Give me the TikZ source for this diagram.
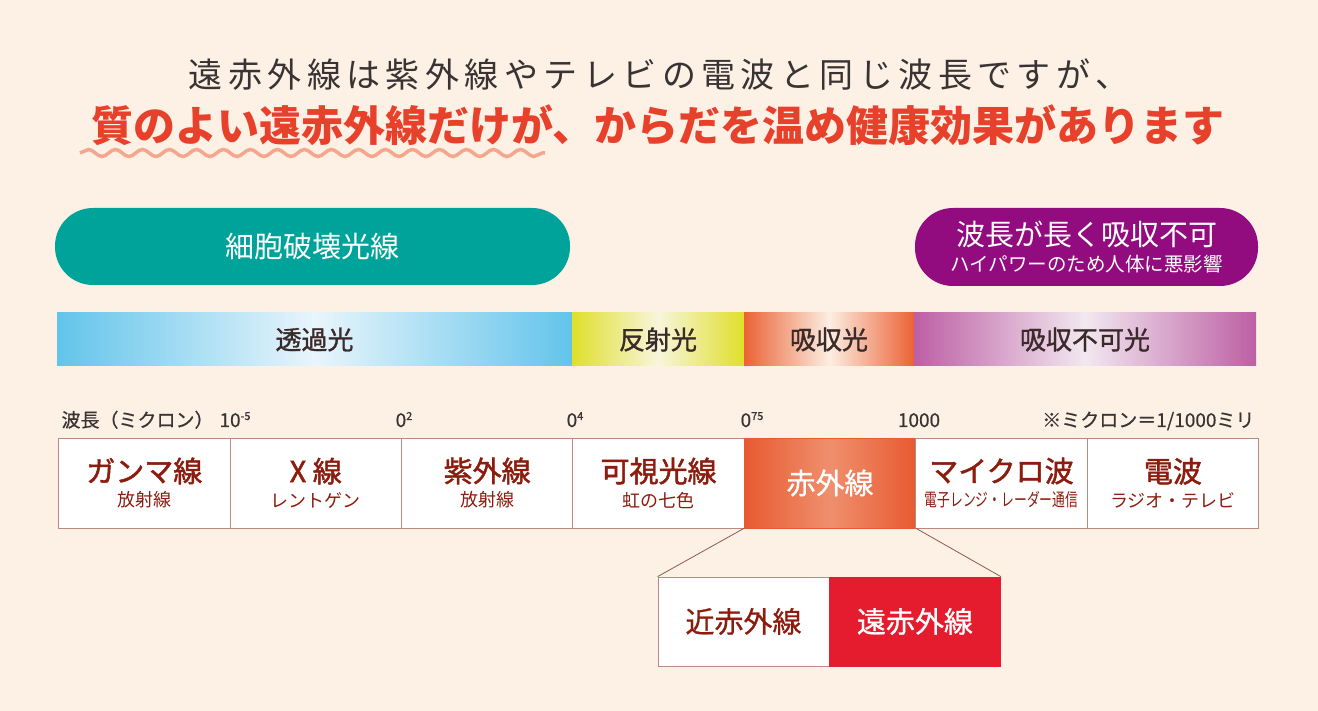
\documentclass[tikz,border=0pt]{standalone}
\usepackage{fontspec}
\setmainfont{Noto Sans CJK JP}
\usetikzlibrary{positioning,decorations.pathmorphing}

\definecolor{bgpeach}{HTML}{FDF0E5}
\definecolor{leadgray}{HTML}{3A3333}
\definecolor{titlered}{HTML}{E8412B}
\definecolor{wavepink}{HTML}{F5A78E}
\definecolor{pillteal}{HTML}{00A39A}
\definecolor{pillpurple}{HTML}{920C80}
\definecolor{bandtext}{HTML}{3B2A2A}
\definecolor{blueE}{HTML}{62C4EA}
\definecolor{blueC}{HTML}{E9F5FC}
\definecolor{yellowE}{HTML}{DFDF2A}
\definecolor{yellowC}{HTML}{F8F5DC}
\definecolor{orangeE}{HTML}{EB6236}
\definecolor{orangeC}{HTML}{FCEEE2}
\definecolor{purpleE}{HTML}{BD5FA4}
\definecolor{purpleC}{HTML}{F2E8F0}
\definecolor{cellline}{HTML}{B88A80}
\definecolor{cellred}{HTML}{8B1C0E}
\definecolor{irE}{HTML}{E85A30}
\definecolor{irC}{HTML}{EF8F6D}
\definecolor{farred}{HTML}{E41C2D}
\definecolor{callbrown}{HTML}{8C5A50}

\tikzset{
  pill/.style={rounded corners=38pt, text=white, inner sep=0pt, align=center},
  band/.style={minimum height=53pt, inner sep=0pt, text=bandtext,
    font=\fontsize{26}{28}\selectfont\addfontfeature{FakeBold=1.2}},
  cellbox/.style={draw=cellline, line width=0.8pt, fill=white, minimum width=171.43pt, minimum height=90pt,
    inner sep=0pt, align=center, text=cellred, font=\fontsize{18}{25}\selectfont},
  bigtext/.style={font=\fontsize{29}{30}\selectfont\addfontfeature{FakeBold=0.8}},
  tick/.style={anchor=base, text=leadgray, font=\fontsize{19}{20}\selectfont\addfontfeature{FakeBold=0.6}},
  callline/.style={draw=callbrown, line width=0.8pt}
}
\newcommand{\mainlbl}[1]{{\fontsize{29}{25}\selectfont\addfontfeature{FakeBold=1.6}#1}}
\newcommand{\pw}[1]{\raisebox{7pt}{\fontsize{11}{11}\selectfont #1}}

\begin{document}
\begin{tikzpicture}[x=1pt,y=-1pt,node distance=171.43pt]
  \fill[bgpeach] (0,0) rectangle (1318,711);
  \useasboundingbox (0,0) rectangle (1318,711);

  % heading
  \node (lead) [text=leadgray, font=\fontsize{34}{36}\selectfont] at (659,75)
    {\addfontfeature{LetterSpace=16}遠赤外線は紫外線やテレビの電波と同じ波長ですが、};
  \node (catch) [text=titlered, font=\fontsize{42}{44}\selectfont\bfseries] at (658,125)
    {質のよい遠赤外線だけが、からだを温め健康効果があります};
  \draw [wavepink, line width=3.5pt, decorate, decoration={snake, amplitude=3.5pt, segment length=27pt}]
    (80,153) -- (545,153);

  % pills
  \node (harm) [pill, fill=pillteal, minimum width=515pt, minimum height=77pt,
    font=\fontsize{29}{30}\selectfont] at (312.5,246.5) {細胞破壊光線};
  \node (longwave) [pill, fill=pillpurple, minimum width=343pt, minimum height=78pt,
    font=\fontsize{19.5}{26}\selectfont] at (1086.5,247)
    {{\fontsize{29}{26}\selectfont 波長が長く吸収不可}\\ハイパワーのため人体に悪影響};

  % light band
  \node (trans) [band, minimum width=515pt, left color=blueE, right color=blueE, middle color=blueC] at (314.5,339.5) {透過光};
  \node (refl) [band, minimum width=172pt, left color=yellowE, right color=yellowE, middle color=yellowC] at (658,339.5) {反射光};
  \node (absorb) [band, minimum width=170pt, left color=orangeE, right color=orangeE, middle color=orangeC] at (829,339.5) {吸収光};
  \node (noabs) [band, minimum width=342pt, left color=purpleE, right color=purpleE, middle color=purpleC] at (1085,339.5) {吸収不可光};

  % wavelengths
  \node (unit) [tick, anchor=base west] at (58,427) {波長（ミクロン）};
  \node (w1) [tick] at (235,427) {10\pw{-5}};
  \node (w2) [tick] at (404,427) {0\pw{2}};
  \node (w3) [tick] at (575,427) {0\pw{4}};
  \node (w4) [tick] at (752,427) {0\pw{75}};
  \node (w5) [tick] at (919,427) {1000};
  \node (note) [tick, anchor=base east] at (1258,427) {※ミクロン＝1/1000ミリ};

  % spectrum table
  \node (gamma) [cellbox] at (144.3,483) {\mainlbl{ガンマ線}\\放射線};
  \node (xray) [cellbox, right of=gamma] {\mainlbl{X 線}\\レントゲン};
  \node (uv) [cellbox, right of=xray] {\mainlbl{紫外線}\\放射線};
  \node (vis) [cellbox, right of=uv] {\mainlbl{可視光線}\\虹の七色};
  \node (ir) [cellbox, bigtext, draw=irE, left color=irE, right color=irE, middle color=irC, text=white,
    right of=vis] {赤外線};
  \node (micro) [cellbox, right of=ir] {\mainlbl{マイクロ波}\\\scalebox{0.71}[1]{電子レンジ・レーダー通信}};
  \node (radio) [cellbox, right of=micro] {\mainlbl{電波}\\ラジオ・テレビ};

  % infrared detail
  \node (near) [cellbox, bigtext, minimum width=171pt, minimum height=89pt] at (743.5,621.5) {近赤外線};
  \node (far) [cellbox, bigtext, minimum width=171pt, minimum height=89pt, draw=farred, fill=farred, text=white,
    right of=near] {遠赤外線};
  \draw [callline] (ir.south west) -- (near.north west);
  \draw [callline] (ir.south east) -- (far.north east);
\end{tikzpicture}
\end{document}
